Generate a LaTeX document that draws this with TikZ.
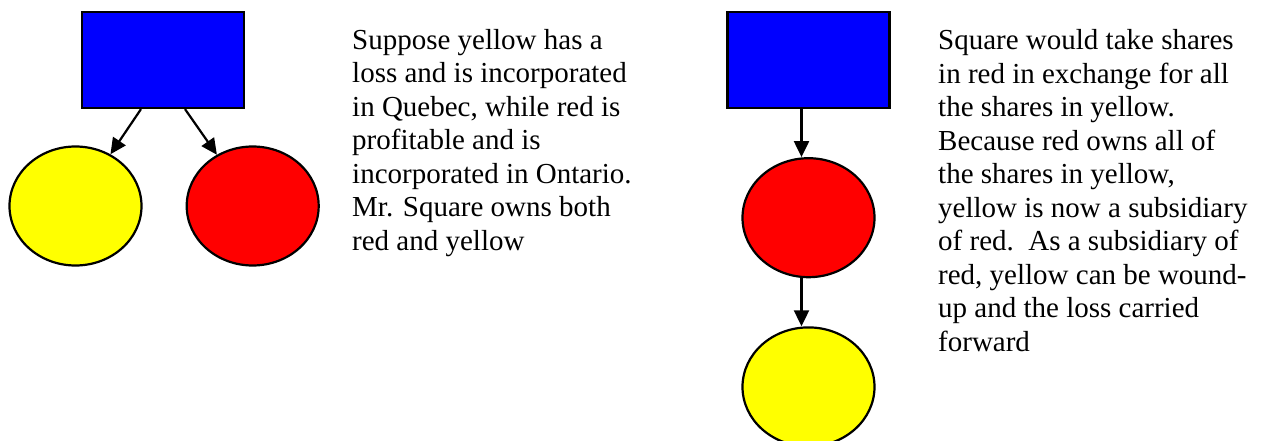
\documentclass[tikz,border=0pt]{standalone}
\usepackage{fontspec}
\setmainfont{Liberation Serif}
\usepackage{xcolor}
\usepackage{tikz}
\usetikzlibrary{arrows.meta,positioning,shapes.geometric}

\definecolor{sqblue}{RGB}{0,0,255}
\definecolor{corpred}{RGB}{255,0,0}
\definecolor{corpyellow}{RGB}{255,255,0}

\begin{document}
\begin{tikzpicture}[
    x=1pt, y=-1pt,
    owner/.style={draw, line width=2.2pt, fill=sqblue, minimum width=162pt, minimum height=96pt, inner sep=0pt},
    corp/.style={draw, ellipse, line width=2.2pt, minimum width=132pt, minimum height=119pt, inner sep=0pt},
    note/.style={anchor=base west, align=left, inner sep=0pt, font=\fontsize{29}{33.5}\selectfont},
    arrow/.style={-{Triangle[length=16pt, width=15pt]}, line width=2.2pt}
  ]
    \useasboundingbox (0,0) rectangle (1261,441);

    % before: Mr. Square owns both companies
    \node[owner] (sqA) at (163,60) {};
    \node[corp, fill=corpyellow] (ylwA) at (75.5,206) {};
    \node[corp, fill=corpred, right=43pt of ylwA] (redA) {};
    % base anchor sits on the last line
    \node[note] (txtA) at (352,250) {Suppose yellow has a\\loss and is incorporated\\in Quebec, while red is\\profitable and is\\incorporated in Ontario.\\Mr. Square owns both\\red and yellow};

    \draw[arrow] ([xshift=-22pt]sqA.south) -- (ylwA);
    \draw[arrow] ([xshift=22pt]sqA.south) -- (redA);

    % after: yellow becomes a subsidiary of red
    \node[owner] (sqB) at (808.5,60) {};
    \node[corp, fill=corpred, below=48pt of sqB] (redB) {};
    \node[corp, fill=corpyellow, below=48pt of redB] (ylwB) {};
    \node[note] (txtB) at (938,351) {Square would take shares\\in red in exchange for all\\the shares in yellow.\\Because red owns all of\\the shares in yellow,\\yellow is now a subsidiary\\of red.\ \ As a subsidiary of\\red, yellow can be wound-\\up and the loss carried\\forward};

    \draw[arrow] ([xshift=-7pt]sqB.south) -- ([xshift=-7pt]redB.north);
    \draw[arrow] ([xshift=-7pt]redB.south) -- ([xshift=-7pt]ylwB.north);
  \end{tikzpicture}
\end{document}
